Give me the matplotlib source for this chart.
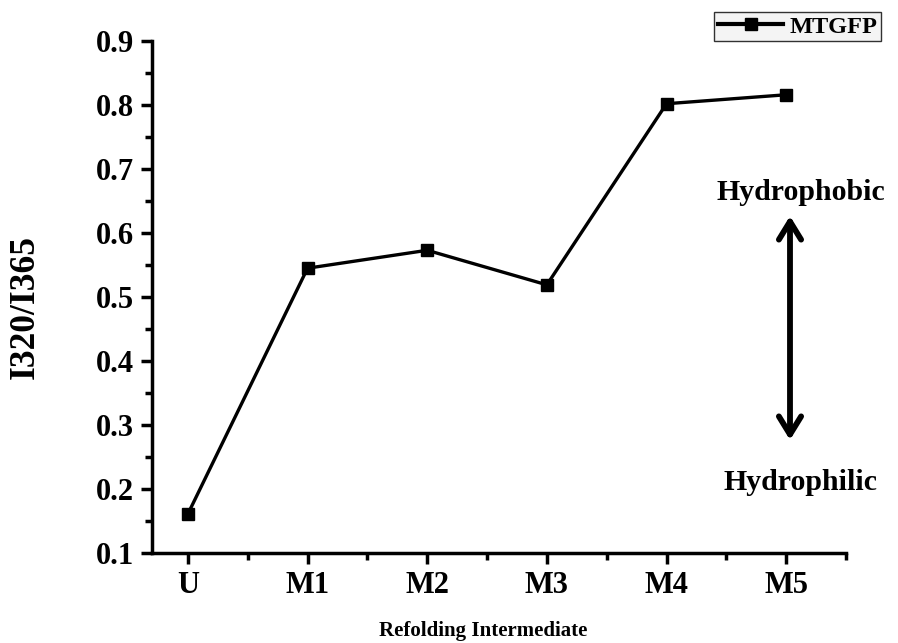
import matplotlib
matplotlib.use("Agg")
import matplotlib.pyplot as plt
from matplotlib.ticker import MultipleLocator

categories = ["U", "M1", "M2", "M3", "M4", "M5"]
ratio = [0.161, 0.545, 0.573, 0.519, 0.802, 0.816]
yticks = [0.1, 0.2, 0.3, 0.4, 0.5, 0.6, 0.7, 0.8, 0.9]

plt.rcParams['font.family'] = ['Liberation Serif', 'DejaVu Serif']
plt.rcParams['font.weight'] = 'bold'

W, H = 898, 643
fig = plt.figure(figsize=(W/100, H/100), dpi=100)
ax = fig.add_axes([152/W, 1-553/H, (846-152)/W, (553-41)/H])

x = list(range(len(categories)))
ax.plot(x, ratio, color='black', lw=2.4, marker='s', ms=8, label='MTGFP')

ax.set_xlim(-0.3, 5.5)
ax.set_ylim(0.1, 0.9)
ax.set_xticks(x)
ax.set_xticklabels(categories)
ax.set_yticks(yticks)
ax.set_yticklabels([f"{v:.1f}" for v in yticks])
ax.xaxis.set_minor_locator(MultipleLocator(0.5))
ax.yaxis.set_minor_locator(MultipleLocator(0.05))

for s in ['top', 'right']:
    ax.spines[s].set_visible(False)
for s in ['left', 'bottom']:
    ax.spines[s].set_linewidth(2.5)

ax.tick_params(which='major', direction='out', length=8, width=2.5, labelsize=22, pad=5)
ax.tick_params(which='minor', direction='out', length=5, width=2.5)
for lab in ax.get_xticklabels() + ax.get_yticklabels():
    lab.set_fontweight('bold')

fig.text(25/W, 1-307/H, 'I320/I365', fontsize=25.5, fontweight='bold', rotation=90,
         ha='center', va='center')
fig.text(483/W, 1-621/H, 'Refolding Intermediate', fontsize=15, fontweight='bold',
         ha='center', va='top')

leg = ax.legend(loc='upper right', bbox_to_anchor=(881/W, 1-12/H), bbox_transform=fig.transFigure,
                prop={'size': 17.5, 'weight': 'bold'}, frameon=True, fancybox=False,
                handlelength=2.7, handletextpad=0.25, borderpad=0.15, borderaxespad=0)
leg.get_frame().set_edgecolor('black')
leg.get_frame().set_linewidth(1.0)
leg.get_frame().set_facecolor('#f2f2f2')
for h in leg.get_lines():
    h.set_linewidth(3)

fig.text(801/W, 1-192/H, 'Hydrophobic', fontsize=21.5, fontweight='bold', ha='center', va='center')
fig.text(801/W, 1-482/H, 'Hydrophilic', fontsize=21.5, fontweight='bold', ha='center', va='center')
ax.annotate('', xy=(790/W, 1-216/H), xytext=(790/W, 1-440/H), xycoords='figure fraction',
            textcoords='figure fraction',
            arrowprops=dict(arrowstyle='<->,head_length=1.3,head_width=0.8', lw=4.2, color='black',
                            shrinkA=0, shrinkB=0))

fig.savefig('out.png', dpi=100)
